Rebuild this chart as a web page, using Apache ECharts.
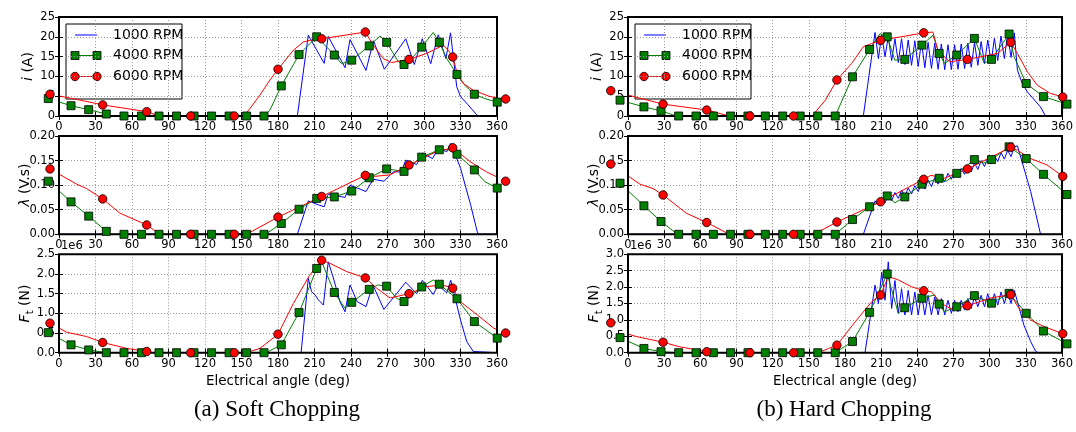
<!DOCTYPE html>
<html><head><meta charset="utf-8">
<script src="https://cdn.jsdelivr.net/npm/echarts@6/dist/echarts.min.js"></script>
<style>html,body{margin:0;padding:0;background:#fff}#c{width:1076px;height:432px}</style>
</head><body><div id="c"></div>
<script>
// ---------- marker angles (deg) ----------
const softAng4000 = [-8.8, 9.9, 24.4, 38.9, 53.4, 67.8, 82.2, 96.6, 111.0, 125.4, 139.8, 154.2, 168.5, 182.7, 197.3, 211.8, 226.3, 240.6, 255.0, 269.3, 283.6, 298.1, 312.6, 327.1, 341.4, 360.2];
const softAng6000 = [-7.4, 35.9, 72.1, 108.2, 144.1, 180.0, 215.9, 251.8, 287.7, 323.6, 367.1];
const hardAng4000 = [-6.6, 13.2, 27.4, 42.0, 56.4, 70.8, 85.1, 99.5, 113.9, 128.3, 142.8, 157.4, 171.9, 186.2, 200.4, 215.0, 229.6, 243.8, 258.1, 272.7, 287.3, 301.5, 316.1, 330.3, 344.6, 364.1];
const hardAng6000 = [-14.3, 29.1, 65.3, 101.1, 137.3, 173.3, 209.5, 245.3, 281.5, 317.4, 360.6];

// ---------- Soft chopping: current i (A) ----------
const softI4000 = [4.4, 2.6, 1.6, 0.5, 0, 0, 0, 0, 0, 0, 0, 0, 0, 7.6, 15.5, 20.0, 15.4, 14.1, 17.7, 18.6, 13.0, 17.4, 18.6, 10.5, 5.5, 3.5];
const softI4000x = [[42, 0], [173.4, 1.5], [232.3, 13.2], [263.8, 20.2], [278.9, 13.7], [291.2, 15.0], [307.6, 21.1], [318.7, 14.5], [334, 7.6], [350, 4.4]];
const softI6000 = [5.5, 2.8, 1.1, 0, 0, 11.8, 19.5, 21.2, 14.3, 14.9, 4.3];
const softI6000x = [[14.5, 4.2], [82.5, 0], [151.5, 0], [157, 1.9], [165.2, 5.3], [173.4, 9.1], [192.6, 16.6], [200.8, 18.7], [209, 19.3], [258.3, 17.9], [266.5, 14.5], [273.4, 13.5], [280.3, 13.9], [302.2, 15.8], [315.9, 17.9], [320, 16.6], [326.9, 11.2], [332.3, 8.2], [340.5, 6.5], [354.2, 4.9]];
const softI1000 = [[0, 0], [195.9, 0], [204.9, 20.4], [218.0, 13.3], [221.3, 20.1], [235.1, 12.2], [239.2, 19.3], [252.3, 11.5], [258.5, 19.0], [267.4, 11.8], [285.0, 19.5], [292.0, 13.0], [298.6, 19.5], [305.5, 13.2], [311.7, 20.5], [318.0, 14.5], [321.8, 21.0], [326.9, 7.4], [330.0, 4.9], [336.0, 2.9], [343.3, 0.3], [345, 0], [360, 0]];

// ---------- Soft chopping: flux linkage (V.s) ----------
const softL4000 = [0.108, 0.066, 0.037, 0.006, 0, 0, 0, 0, 0, 0, 0, 0, 0, 0.022, 0.051, 0.073, 0.076, 0.088, 0.115, 0.133, 0.128, 0.157, 0.172, 0.163, 0.131, 0.094];
const softL4000x = [[42, 0], [172, 0.004], [320, 0.172], [350, 0.107]];
const softL6000 = [0.133, 0.072, 0.019, 0, 0, 0.035, 0.077, 0.120, 0.141, 0.176, 0.108];
const softL6000x = [[14.5, 0.102], [22.7, 0.093], [50.1, 0.043], [83, 0], [154.2, 0], [165.2, 0.015], [260, 0.118], [272, 0.121], [310, 0.168], [337.8, 0.148], [351.4, 0.127]];
const softL1000 = [[0, 0], [195.9, 0], [204.9, 0.068], [213.1, 0.060], [218, 0.056], [221.3, 0.082], [235.1, 0.075], [239.2, 0.100], [252.3, 0.087], [258.3, 0.112], [267.1, 0.108], [274.8, 0.127], [281.3, 0.127], [285, 0.151], [294, 0.142], [298.6, 0.165], [307, 0.154], [311.7, 0.175], [318.7, 0.168], [322, 0.185], [330.1, 0.134], [338.3, 0.060], [343.8, 0.005], [345, 0], [360, 0]];

// ---------- Soft chopping: tangential force (1e6 N) ----------
const softF4000 = [0.51, 0.20, 0.07, 0, 0, 0, 0, 0, 0, 0, 0, 0, 0, 0.20, 1.02, 2.14, 1.53, 1.28, 1.61, 1.69, 1.30, 1.67, 1.74, 1.37, 0.79, 0.37];
const softF4000x = [[172, 0.03], [216, 2.3], [235, 1.13], [262, 1.72], [277.5, 1.38], [307.6, 1.85]];
const softF6000 = [0.75, 0.26, 0.03, 0, 0, 0.47, 2.35, 1.90, 1.50, 1.64, 0.50];
const softF6000x = [[6.3, 0.52], [22.7, 0.41], [55.6, 0.11], [77, 0], [154, 0], [165.2, 0.11], [192.6, 1.25], [206, 1.97], [222.7, 2.27], [236.5, 2.06], [261.1, 1.64], [272, 1.39], [302.2, 1.68], [315, 1.72], [330.1, 1.29], [343.8, 0.96], [357.5, 0.62]];
const softF1000 = [[0, 0], [199, 0], [204.9, 1.89], [207.6, 1.55], [210.4, 1.47], [213, 1.35], [217.3, 1.21], [221.3, 2.31], [225, 1.95], [231, 1.29], [235.1, 1.04], [239.2, 1.72], [245, 1.30], [252.3, 1.17], [258, 1.72], [267, 1.10], [285, 1.79], [294, 1.50], [298.6, 1.84], [307.6, 1.48], [311.7, 1.72], [318.7, 1.52], [322, 1.84], [330.1, 0.82], [335.2, 0.28], [340.5, 0.03], [342, 0], [360, 0]];

// ---------- Hard chopping ----------
const hardI4000 = [4.0, 2.3, 1.3, 0, 0, 0, 0, 0, 0, 0, 0, 0, 0, 9.9, 16.8, 20.0, 14.3, 17.9, 15.8, 15.4, 19.6, 14.3, 20.7, 8.2, 4.9, 3.0];
const hardI4000x = [[40, 0], [209, 20.8], [221.3, 14.1], [252.9, 20.4], [262.6, 13.3], [295.5, 13.3], [320.2, 15.0]];
const hardI6000 = [6.4, 3.0, 1.5, 0, 0, 9.1, 19.1, 21.0, 14.3, 18.6, 4.8];
const hardI6000x = [[84, 0], [152.7, 0], [163.7, 4.0], [185.6, 13.3], [195.2, 17.5], [202, 18.3], [252.9, 21.2], [257, 16.6], [266.7, 13.7], [306.5, 15.8], [323, 15.8], [331.2, 11.2], [339.4, 7.8], [350.4, 5.7]];
const hardL4000 = [0.104, 0.058, 0.026, 0, 0, 0, 0, 0, 0, 0, 0, 0, 0, 0.030, 0.056, 0.078, 0.076, 0.102, 0.114, 0.124, 0.152, 0.152, 0.178, 0.154, 0.122, 0.081];
const hardL4000x = [[40, 0.002], [221.3, 0.064], [264, 0.108], [295, 0.145]];
const hardL6000 = [0.143, 0.080, 0.024, 0, 0, 0.025, 0.066, 0.112, 0.133, 0.177, 0.118];
const hardL6000x = [[9.9, 0.102], [20.8, 0.093], [48.3, 0.043], [84, 0], [150, 0], [158, 0.005], [251.3, 0.120], [262.3, 0.114], [323, 0.171], [334, 0.154], [347.6, 0.141]];
const hardF4000 = [0.46, 0.13, 0.03, 0, 0, 0, 0, 0, 0, 0, 0, 0, 0, 0.34, 1.23, 2.40, 1.37, 1.66, 1.48, 1.40, 1.74, 1.51, 1.81, 1.20, 0.66, 0.27];
const hardF4000x = [[40, 0], [224.2, 1.20], [254.3, 1.76], [262.3, 1.25]];
const hardF6000 = [0.91, 0.32, 0.03, 0, 0, 0.23, 1.76, 1.89, 1.43, 1.77, 0.58];
const hardF6000x = [[-6.6, 0.64], [7.2, 0.49], [42.8, 0.18], [70, 0], [158, 0], [166.4, 0.13], [188.4, 0.94], [202, 1.55], [215.9, 2.32], [224.2, 2.22], [235.2, 2.01], [251.5, 1.86], [259.8, 1.51], [268, 1.33], [300.9, 1.67], [324.3, 1.35], [333.9, 1.00], [344.9, 0.80]];

// 1000 RPM hard chopping: zigzag samples
const hardBlueAng = [204.9, 207.7, 210.4, 213.2, 215.9, 218.7, 221.4, 224.2, 226.9, 229.7, 232.4, 235.2, 237.9, 240.7, 243.4, 246.2, 248.9, 251.7, 254.4, 257.2, 259.9, 262.7, 265.4, 268.2, 270.9, 273.7, 276.4, 279.2, 281.9, 284.7, 287.4, 290.2, 292.9, 295.7, 298.4, 301.2, 303.9, 306.7, 309.4, 312.2, 314.9, 317.7, 320.4];
const hardI1000 = [21.1, 14.5, 20.5, 15.0, 20.0, 14.0, 19.5, 13.5, 19.5, 13.0, 19.2, 12.8, 19.0, 12.5, 18.8, 12.2, 18.6, 12.0, 18.4, 11.8, 18.2, 11.7, 18.0, 11.7, 18.0, 11.8, 18.2, 12.0, 18.4, 12.3, 18.6, 12.8, 18.8, 13.2, 19.2, 13.6, 19.6, 14.0, 20.2, 14.5, 20.6, 14.8, 21.0];
const hardI1000ends = [[0, 0], [195.2, 0], [323, 11.6], [327, 8.2], [331.2, 6.1], [342.1, 2.3], [346.3, 0], [360, 0]];
const hardL1000 = [0.068, 0.060, 0.075, 0.064, 0.080, 0.068, 0.085, 0.073, 0.090, 0.078, 0.094, 0.082, 0.099, 0.087, 0.104, 0.092, 0.110, 0.097, 0.115, 0.102, 0.119, 0.107, 0.124, 0.112, 0.129, 0.117, 0.134, 0.122, 0.139, 0.127, 0.145, 0.132, 0.150, 0.138, 0.155, 0.143, 0.160, 0.148, 0.166, 0.153, 0.171, 0.158, 0.178];
const hardL1000ends = [[0, 0], [195.2, 0], [323, 0.180], [334, 0.087], [342.2, 0], [360, 0]];
const hardF1000 = [2.06, 1.50, 2.45, 1.60, 2.77, 1.35, 2.20, 1.20, 1.95, 1.15, 1.90, 1.15, 1.85, 1.15, 1.80, 1.15, 1.75, 1.15, 1.70, 1.15, 1.65, 1.15, 1.60, 1.20, 1.60, 1.25, 1.60, 1.30, 1.65, 1.35, 1.70, 1.40, 1.75, 1.40, 1.80, 1.45, 1.80, 1.45, 1.85, 1.50, 1.85, 1.50, 1.90];
const hardF1000ends = [[0, 0], [196.6, 0], [328.4, 0.84], [334, 0.34], [338, 0.05], [340, 0], [360, 0]];

// ---------- helpers ----------
function pairs(ang, val) { return ang.map((a, i) => [a, val[i]]); }
function merged(ang, val, extra) {
  return pairs(ang, val).concat(extra).sort((p, q) => p[0] - q[0]);
}
const FONT = 'DejaVu Sans';
const BLUE = '#0000ff', GREEN = '#008000', RED = '#ff0000';
const colLayout = [{ left: 59, width: 438 }, { left: 628, width: 437 }];
const rowLayout = [{ top: 17, height: 99 }, { top: 136, height: 98.3 }, { top: 254.3, height: 98.4 }];

const panels = [
  { col: 0, row: 0, b: softI1000, g: merged(softAng4000, softI4000, softI4000x), gm: pairs(softAng4000, softI4000), r: merged(softAng6000, softI6000, softI6000x), rm: pairs(softAng6000, softI6000), ymax: 25, yint: 5, dec: 0, name: '{it|i} (A)', gap: 21 },
  { col: 0, row: 1, b: softL1000, g: merged(softAng4000, softL4000, softL4000x), gm: pairs(softAng4000, softL4000), r: merged(softAng6000, softL6000, softL6000x), rm: pairs(softAng6000, softL6000), ymax: 0.2, yint: 0.05, dec: 2, name: '{it|λ} (V.s)', gap: 24 },
  { col: 0, row: 2, b: softF1000, g: merged(softAng4000, softF4000, softF4000x), gm: pairs(softAng4000, softF4000), r: merged(softAng6000, softF6000, softF6000x), rm: pairs(softAng6000, softF6000), ymax: 2.5, yint: 0.5, dec: 1, name: '{it|F}{sub|t} (N)', gap: 24 },
  { col: 1, row: 0, b: pairs(hardBlueAng, hardI1000).concat(hardI1000ends).sort((p, q) => p[0] - q[0]), g: merged(hardAng4000, hardI4000, hardI4000x), gm: pairs(hardAng4000, hardI4000), r: merged(hardAng6000, hardI6000, hardI6000x), rm: pairs(hardAng6000, hardI6000), ymax: 25, yint: 5, dec: 0, name: '{it|i} (A)', gap: 21 },
  { col: 1, row: 1, b: pairs(hardBlueAng, hardL1000).concat(hardL1000ends).sort((p, q) => p[0] - q[0]), g: merged(hardAng4000, hardL4000, hardL4000x), gm: pairs(hardAng4000, hardL4000), r: merged(hardAng6000, hardL6000, hardL6000x), rm: pairs(hardAng6000, hardL6000), ymax: 0.2, yint: 0.05, dec: 2, name: '{it|λ} (V.s)', gap: 24 },
  { col: 1, row: 2, b: pairs(hardBlueAng, hardF1000).concat(hardF1000ends).sort((p, q) => p[0] - q[0]), g: merged(hardAng4000, hardF4000, hardF4000x), gm: pairs(hardAng4000, hardF4000), r: merged(hardAng6000, hardF6000, hardF6000x), rm: pairs(hardAng6000, hardF6000), ymax: 3.0, yint: 0.5, dec: 1, name: '{it|F}{sub|t} (N)', gap: 24 }
];

const grid = [], xAxis = [], yAxis = [], series = [], graphic = [];
panels.forEach((p, i) => {
  const c = colLayout[p.col], r = rowLayout[p.row];
  grid.push({ left: c.left, top: r.top, width: c.width, height: r.height, show: true, borderColor: '#000', borderWidth: 2, backgroundColor: 'rgba(0,0,0,0)', z: 3 });
  const tick = { inside: true, length: 4, lineStyle: { color: '#000', width: 1 } };
  xAxis.push({
    gridIndex: i, type: 'value', min: 0, max: 360, interval: 30, position: 'bottom',
    axisLine: { show: false }, axisTick: tick,
    axisLabel: { color: '#000', fontSize: 11.5, fontFamily: FONT, margin: 5 },
    splitLine: { show: true, lineStyle: { color: '#999', type: [1, 2], width: 1 } },
    name: p.row === 2 ? 'Electrical angle (deg)' : '', nameLocation: 'middle', nameGap: 22, nameMoveOverlap: false,
    nameTextStyle: { color: '#000', fontSize: 13.5, fontFamily: FONT }
  });
  xAxis.push({
    gridIndex: i, type: 'value', min: 0, max: 360, interval: 30, position: 'top',
    axisLine: { show: false }, axisTick: tick, axisLabel: { show: false }, splitLine: { show: false }
  });
  yAxis.push({
    gridIndex: i, type: 'value', min: 0, max: p.ymax, interval: p.yint, position: 'left',
    axisLine: { show: false }, axisTick: tick,
    axisLabel: { color: '#000', fontSize: 11.5, fontFamily: FONT, margin: 4, formatter: v => v.toFixed(p.dec) },
    splitLine: { show: true, lineStyle: { color: '#999', type: [1, 2], width: 1 } },
    name: p.name, nameLocation: 'middle', nameGap: p.gap, nameRotate: 90, nameMoveOverlap: false,
    nameTextStyle: {
      color: '#000', fontSize: 14, fontFamily: FONT, lineHeight: 20,
      rich: {
        it: { fontStyle: 'italic', fontSize: 14, fontFamily: FONT, color: '#000', lineHeight: 20 },
        sub: { fontSize: 10, fontFamily: FONT, color: '#000', lineHeight: 10, verticalAlign: 'bottom' }
      }
    }
  });
  yAxis.push({
    gridIndex: i, type: 'value', min: 0, max: p.ymax, interval: p.yint, position: 'right',
    axisLine: { show: false }, axisTick: tick, axisLabel: { show: false }, splitLine: { show: false }
  });
  const xi = 2 * i, yi = 2 * i;
  series.push({ type: 'line', name: '1000 RPM', xAxisIndex: xi, yAxisIndex: yi, data: p.b, showSymbol: false, symbol: 'none', clip: true, z: 2, lineStyle: { color: BLUE, width: 1 }, itemStyle: { color: BLUE } });
  series.push({ type: 'line', name: '4000 RPM', xAxisIndex: xi, yAxisIndex: yi, data: p.g, showSymbol: false, symbol: 'none', clip: true, z: 2, lineStyle: { color: GREEN, width: 1 }, itemStyle: { color: GREEN } });
  series.push({ type: 'line', name: '6000 RPM', xAxisIndex: xi, yAxisIndex: yi, data: p.r, showSymbol: false, symbol: 'none', clip: true, z: 2, lineStyle: { color: RED, width: 1 }, itemStyle: { color: RED } });
  series.push({ type: 'scatter', name: '4000 RPM', xAxisIndex: xi, yAxisIndex: yi, data: p.gm, symbol: 'rect', symbolSize: 8, clip: false, z: 4, itemStyle: { color: GREEN, borderColor: '#000', borderWidth: 0.8, opacity: 1 } });
  series.push({ type: 'scatter', name: '6000 RPM', xAxisIndex: xi, yAxisIndex: yi, data: p.rm, symbol: 'circle', symbolSize: 8.5, clip: false, z: 4, itemStyle: { color: RED, borderColor: '#000', borderWidth: 0.8, opacity: 1 } });

  if (p.row === 2) {
    graphic.push({ type: 'text', x: c.left + 2, y: r.top - 2, z: 10, style: { text: '1e6', fill: '#000', font: '11.5px "DejaVu Sans"', textAlign: 'left', textVerticalAlign: 'bottom', verticalAlign: 'bottom' } });
  }
  if (p.row === 0) {
    const bx = c.left + 7, by = r.top + 7;
    const items = [];
    items.push({ type: 'rect', shape: { x: bx, y: by, width: 116, height: 75 }, style: { fill: '#fff', stroke: '#000', lineWidth: 1 } });
    const rows = [{ y: by + 11, col: BLUE, m: null, t: '1000 RPM' }, { y: by + 31.5, col: GREEN, m: 'rect', t: '4000 RPM' }, { y: by + 52.5, col: RED, m: 'circle', t: '6000 RPM' }];
    rows.forEach(e => {
      items.push({ type: 'line', shape: { x1: bx + 9, y1: e.y, x2: bx + 31, y2: e.y }, style: { stroke: e.col, lineWidth: 1 } });
      [bx + 9, bx + 31].forEach(mx => {
        if (e.m === 'rect') items.push({ type: 'rect', shape: { x: mx - 4, y: e.y - 4, width: 8, height: 8 }, style: { fill: e.col, stroke: '#000', lineWidth: 0.8 } });
        if (e.m === 'circle') items.push({ type: 'circle', shape: { cx: mx, cy: e.y, r: 4.2 }, style: { fill: e.col, stroke: '#000', lineWidth: 0.8 } });
      });
      items.push({ type: 'text', x: bx + 47, y: e.y, style: { text: e.t, fill: '#000', font: '14px "DejaVu Sans"', textAlign: 'left', textVerticalAlign: 'middle', verticalAlign: 'middle' } });
    });
    graphic.push({ type: 'group', z: 10, children: items });
  }
});

graphic.push({ type: 'text', x: 277, y: 410, z: 10, style: { text: '(a) Soft Chopping', fill: '#000', font: '23px "Liberation Serif"', textAlign: 'center', textVerticalAlign: 'middle', verticalAlign: 'middle' } });
graphic.push({ type: 'text', x: 844, y: 410, z: 10, style: { text: '(b) Hard Chopping', fill: '#000', font: '23px "Liberation Serif"', textAlign: 'center', textVerticalAlign: 'middle', verticalAlign: 'middle' } });

const chart = echarts.init(document.getElementById('c'), null, { renderer: 'canvas' });
chart.setOption({
  animation: false,
  backgroundColor: '#fff',
  textStyle: { fontFamily: FONT },
  grid, xAxis, yAxis, series, graphic
});
</script></body></html>
